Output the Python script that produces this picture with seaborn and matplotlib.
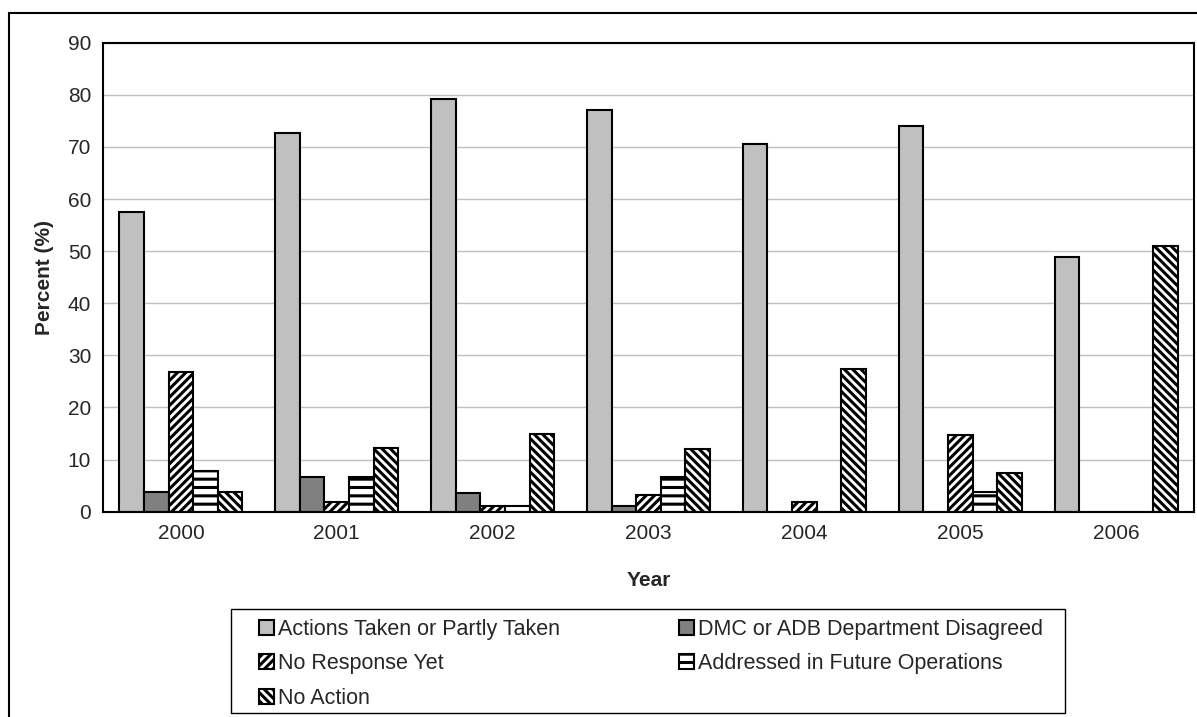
import matplotlib
matplotlib.use("Agg")
import matplotlib.pyplot as plt
from matplotlib.patches import Patch, Rectangle
import seaborn as sns
import pandas as pd
import numpy as np

years = ["2000", "2001", "2002", "2003", "2004", "2005", "2006"]
series_names = [
    "Actions Taken or Partly Taken",
    "DMC or ADB Department Disagreed",
    "No Response Yet",
    "Addressed in Future Operations",
    "No Action",
]
actions_taken = [57.5, 72.6, 79.2, 77.0, 70.6, 74.0, 48.8]
disagreed = [3.8, 6.6, 3.5, 1.1, 0.0, 0.0, 0.0]
no_response = [26.8, 1.8, 1.1, 3.3, 1.9, 14.7, 0.0]
addressed_future = [7.9, 6.6, 1.1, 6.6, 0.0, 3.7, 0.0]
no_action = [3.8, 12.3, 15.0, 12.1, 27.4, 7.4, 51.0]

y_ticks = [0, 10, 20, 30, 40, 50, 60, 70, 80, 90]

sns.set_style("white")
plt.rcParams["font.family"] = ["Liberation Sans", "DejaVu Sans"]
plt.rcParams["hatch.linewidth"] = 2.2

values = [actions_taken, disagreed, no_response, addressed_future, no_action]
rows = []
for name, vals in zip(series_names, values):
    for y, v in zip(years, vals):
        rows.append({"Year": y, "Series": name, "Percent": v})
df = pd.DataFrame(rows)

colors = ["#C0C0C0", "#808080", "#FFFFFF", "#FFFFFF", "#FFFFFF"]
hatches = [None, None, "////", "--", "\\\\\\\\"]

W, H = 1197, 717
FS = 15

fig = plt.figure(figsize=(W / 100, H / 100), dpi=100)
ax = fig.add_axes([103 / W, 1 - 511.7 / H, (1194 - 103) / W, (511.7 - 42.7) / H])

sns.barplot(data=df, x="Year", y="Percent", hue="Series", hue_order=series_names,
            order=years, palette=colors, width=0.79, ax=ax, legend=False,
            edgecolor="black", linewidth=1.5, saturation=1, errorbar=None)

for cont, h in zip(ax.containers, hatches):
    for bar in cont:
        bar.set_edgecolor("black")
        bar.set_linewidth(1.5)
        if h:
            bar.set_hatch(h)

ax.set_ylim(0, 90)
ax.set_xlim(-0.5, len(years) - 0.5)
ax.set_yticks(y_ticks)
ax.yaxis.grid(True, color="#C0C0C0", linewidth=1)
ax.set_axisbelow(True)
ax.tick_params(axis="y", length=4.5, width=1, color="#808080", labelsize=FS, pad=4)
ax.tick_params(axis="x", which="major", length=0, labelsize=FS, pad=9)
ax.set_xticks(np.arange(-0.5, len(years), 1.0), minor=True)
ax.tick_params(axis="x", which="minor", length=6, width=1, color="#808080", direction="out")
for s in ax.spines.values():
    s.set_visible(True)
    s.set_color("black")
    s.set_linewidth(1.5)

ax.set_xlabel("Year", fontsize=FS, fontweight="bold", labelpad=20)
ax.set_ylabel("Percent (%)", fontsize=FS, fontweight="bold", labelpad=10)

handles = [Patch(facecolor=c, edgecolor="black", hatch=h, linewidth=1.5) for c, h in zip(colors, hatches)]
order = [0, 2, 4, 1, 3]
leg = fig.legend([handles[i] for i in order], [series_names[i] for i in order],
                 ncol=2, loc="upper left",
                 bbox_to_anchor=(259 / W, 1 - 619 / H),
                 fontsize=15.5, frameon=False,
                 handlelength=0.7, handleheight=0.7, handletextpad=0.2,
                 labelspacing=0.62, columnspacing=5.5, borderpad=0, borderaxespad=0)

# legend frame
fig.patches.append(Rectangle((231 / W, 1 - 713 / H), (1065 - 231) / W, (713 - 609) / H,
                             transform=fig.transFigure, fill=False,
                             edgecolor="black", linewidth=1.0))

# outer chart border
fig.patches.append(Rectangle((9 / W, -0.1), 1.2, 1 - 13 / H + 0.1,
                             transform=fig.transFigure, fill=False,
                             edgecolor="black", linewidth=1.5))

fig.savefig("out.png", dpi=100)
